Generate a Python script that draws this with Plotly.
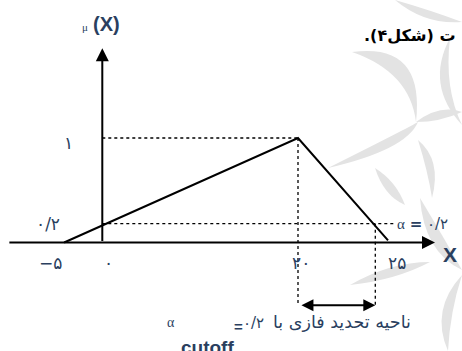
import plotly.graph_objects as go

# membership function (drawing is not to scale)
curve_x = [-3.9, 20, 29.2]
curve_y = [0, 1, 0.02]

peak_x = 20
peak_y = 1
cut_level = 0.18          # the alpha = 0.2 line as drawn
cut_right_x = 27.9        # where the cut meets the falling side
arrow_y = -0.6            # level of the double arrow under the axis

# tick labels (persian digits) and where they sit
x_tick_pos = [-5.3, 0.6, 20.3, 30.1]
x_tick_text = ["\u2212\u06f5", "\u06f0", "\u06f2\u06f0", "\u06f2\u06f5"]
y_tick_pos = [0.95, 0.177]
y_tick_text = ["\u06f1", "\u06f0/\u06f2"]
y_tick_x = [-3.5, -5.5]

W, H = 462, 351
X0, SX = 102.3, 9.785     # pixel of x=0, px per unit
Y0, SY = 242.5, 104.5     # pixel of y=0, px per unit

PERSIAN = "DejaVu Sans"
LATIN = "Liberation Sans"
SERIF = "Liberation Serif"

fig = go.Figure()

# dotted guides
dot = dict(color="black", width=1.3, dash="dot")
fig.add_trace(go.Scatter(x=[0, peak_x], y=[peak_y, peak_y], mode="lines", line=dot))
fig.add_trace(go.Scatter(x=[0, 30], y=[cut_level, cut_level], mode="lines", line=dot))
fig.add_trace(go.Scatter(x=[peak_x, peak_x], y=[peak_y, arrow_y], mode="lines", line=dot))
fig.add_trace(go.Scatter(x=[cut_right_x, cut_right_x], y=[cut_level, arrow_y], mode="lines", line=dot))

# the triangle
fig.add_trace(go.Scatter(x=curve_x, y=curve_y, mode="lines",
                         line=dict(color="black", width=2)))

ann = []
# axes with arrow heads
ann.append(dict(x=34.0, y=0, ax=-9.65, ay=0, xref="x", yref="y", axref="x", ayref="y",
                showarrow=True, arrowhead=2, arrowsize=1.3, arrowwidth=2, arrowcolor="black", text=""))
ann.append(dict(x=0, y=1.86, ax=0, ay=0, xref="x", yref="y", axref="x", ayref="y",
                showarrow=True, arrowhead=2, arrowsize=1.3, arrowwidth=2, arrowcolor="black", text=""))
# double arrow for the cut region
ann.append(dict(x=cut_right_x, y=arrow_y, ax=peak_x + 0.2, ay=arrow_y, xref="x", yref="y",
                axref="x", ayref="y", showarrow=True, arrowhead=2, startarrowhead=2,
                arrowside="end+start", arrowsize=1.2, arrowwidth=2, arrowcolor="black", text=""))

for xv, t in zip(x_tick_pos, x_tick_text):
    ann.append(dict(x=xv, y=-0.2, text=t, showarrow=False, font=dict(family=PERSIAN, size=17)))
for xv, yv, t in zip(y_tick_x, y_tick_pos, y_tick_text):
    ann.append(dict(x=xv, y=yv, text=t, showarrow=False, font=dict(family=PERSIAN, size=17)))

# axis titles
ann.append(dict(x=-1.75, y=2.06, text="\u03bc", showarrow=False, font=dict(family=SERIF, size=11)))
ann.append(dict(x=0.4, y=2.09, text="<b>(X)</b>", showarrow=False, font=dict(family=LATIN, size=20)))
ann.append(dict(x=35.55, y=-0.115, text="<b>X</b>", showarrow=False, font=dict(family=LATIN, size=21)))

# alpha label on the right
ann.append(dict(x=29.9, y=0.18, xanchor="left",
                text="<span style='font-family:Liberation Serif'>\u03b1</span> <b>=</b> \u06f0/\u06f2",
                showarrow=False, font=dict(family=PERSIAN, size=15)))

# caption under the arrow
ann.append(dict(x=31.8, y=-0.765, xanchor="right",
                text="\u0646\u0627\u062d\u06cc\u0647 \u062a\u062d\u062f\u06cc\u062f \u0641\u0627\u0632\u06cc \u0628\u0627",
                showarrow=False, font=dict(family=PERSIAN, size=17.5)))
ann.append(dict(x=15.5, y=-0.77, text="\u06f0/\u06f2", showarrow=False, font=dict(family=PERSIAN, size=15)))
ann.append(dict(x=13.9, y=-0.8, text="<b>=</b>", showarrow=False, font=dict(family=LATIN, size=15)))
ann.append(dict(x=10.7, y=-1.0, text="<b>cutoff</b>", showarrow=False, font=dict(family=LATIN, size=19)))
ann.append(dict(x=7.0, y=-0.77, text="\u03b1", showarrow=False, font=dict(family=SERIF, size=14)))

# piece of the page text above the figure
ann.append(dict(x=457 / W, y=1 - 24 / H, xref="paper", yref="paper", xanchor="right",
                text="<b>.(\u06f4\u0634\u06a9\u0644) \u062a</b>", showarrow=False,
                font=dict(family=PERSIAN, size=16, color="black")))

# faint watermark behind the figure (crescents, given in pixels)
def crescent(p0, p2, c_out, c_in):
    f = lambda p: f"{p[0] / W:.4f},{1 - p[1] / H:.4f}"
    return f"M{f(p0)} Q{f(c_out)} {f(p2)} Q{f(c_in)} {f(p0)} Z"

arcs = [
    ((352, 52), (416, 122), (425, 42), (410, 72)),
    ((450, 38), (462, 125), (425, 85), (444, 88)),
    ((416, 122), (462, 112), (440, 104), (440, 122)),
    ((328, 168), (418, 122), (400, 132), (406, 150)),
    ((418, 140), (432, 198), (442, 160), (428, 172)),
    ((375, 168), (405, 205), (384, 196), (396, 181)),
    ((420, 198), (462, 270), (424, 252), (444, 238)),
    ((350, 285), (430, 262), (390, 262), (396, 280)),
    ((462, 275), (448, 351), (430, 310), (450, 312)),
    ((395, 0), (462, 22), (425, 25), (430, 10)),
]
shapes = [dict(type="path", xref="paper", yref="paper", path=crescent(*a),
               fillcolor="#e3e3e3", line=dict(width=0), layer="below") for a in arcs]

fig.update_layout(
    width=W, height=H,
    margin=dict(l=0, r=0, t=0, b=0),
    paper_bgcolor="white", plot_bgcolor="rgba(0,0,0,0)",
    showlegend=False,
    annotations=ann,
    shapes=shapes,
    xaxis=dict(range=[-X0 / SX, (W - X0) / SX], visible=False, fixedrange=True),
    yaxis=dict(range=[(Y0 - H) / SY, Y0 / SY], visible=False, fixedrange=True),
)

fig.write_html("out.html", config={"displayModeBar": False},
               post_script="document.body.style.margin='0';document.body.style.overflow='hidden';")
